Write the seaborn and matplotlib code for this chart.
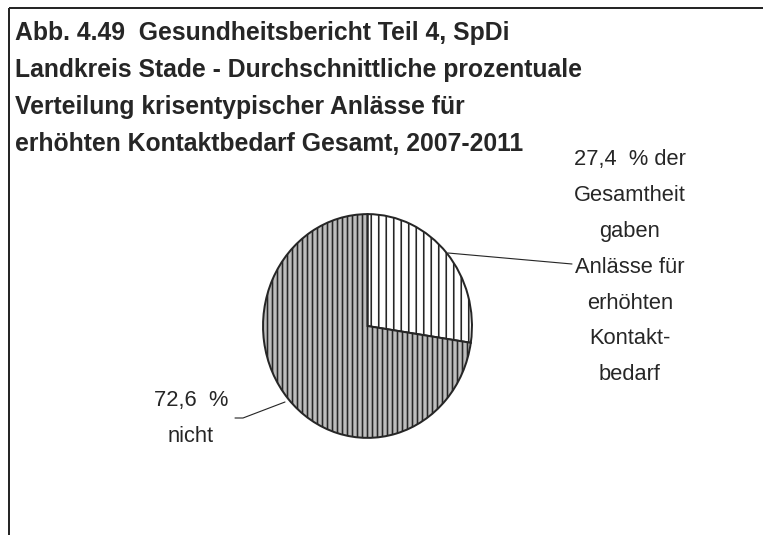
import matplotlib
matplotlib.use("Agg")
import matplotlib.pyplot as plt
import seaborn as sns

# --- data -------------------------------------------------------------
title_lines = [
    "Abb. 4.49  Gesundheitsbericht Teil 4, SpDi",
    "Landkreis Stade - Durchschnittliche prozentuale",
    "Verteilung krisentypischer Anlässe für",
    "erhöhten Kontaktbedarf Gesamt, 2007-2011",
]
shares = [27.4, 72.6]
share_suffix = [
    ["  % der", "Gesamtheit", "gaben", "Anlässe für", "erhöhten", "Kontakt-", "bedarf"],
    ["  %", "nicht"],
]
face_colors = ["#ffffff", "#bdbdbd"]
hatches = ["||", "|||"]

# --- styling ----------------------------------------------------------
sns.set_theme(style="white")
plt.rcParams["font.family"] = ["Liberation Sans", "DejaVu Sans"]
plt.rcParams["hatch.linewidth"] = 1.3

W, H, DPI = 763, 535, 90
fig = plt.figure(figsize=(W / DPI, H / DPI), dpi=DPI)
fig.patch.set_facecolor("white")

# overlay axes in pixel units (y measured from the top)
ov = fig.add_axes([0, 0, 1, 1])
ov.set_xlim(0, W)
ov.set_ylim(H, 0)
ov.axis("off")

ink = "#262626"

# frame: top and left rule
ov.plot([9, W], [8, 8], color=ink, lw=1.6, solid_capstyle="butt")
ov.plot([9, 9], [8, H], color=ink, lw=1.6, solid_capstyle="butt")

# title, one baseline per line
for i, line in enumerate(title_lines):
    ov.text(15, 40 + i * 37.0, line, fontsize=19.8, fontweight="bold",
            color=ink, ha="left", va="baseline")

# pie in its own axes, stretched slightly taller than wide
pie_left, pie_top, pie_w, pie_h = 262, 213, 211, 226
pax = fig.add_axes([pie_left / W, (H - pie_top - pie_h) / H, pie_w / W, pie_h / H])
wedges, _ = pax.pie(
    shares,
    startangle=90,
    counterclock=False,
    colors=face_colors,
    radius=1.0,
    wedgeprops=dict(edgecolor=ink, linewidth=1.6),
)
for w, h in zip(wedges, hatches):
    w.set_hatch(h)
pax.set_xlim(-1.01, 1.01)
pax.set_ylim(-1.01, 1.01)
pax.set_aspect("auto")
pax.axis("off")


def fmt(v):
    return f"{v:.1f}".replace(".", ",")


def label_block(x, y0, lines, step=35.9):
    for i, line in enumerate(lines):
        ov.text(x, y0 + i * step, line, fontsize=17.5, color=ink,
                ha="center", va="baseline")


# labels with leader lines
lines0 = [fmt(shares[0]) + share_suffix[0][0]] + share_suffix[0][1:]
label_block(630, 165, lines0)
ov.plot([448, 572], [253, 264], color=ink, lw=0.9)

lines1 = [fmt(shares[1]) + share_suffix[1][0]] + share_suffix[1][1:]
label_block(191, 406, lines1, step=36.0)
ov.plot([285, 243, 235], [402, 418, 418], color=ink, lw=0.9)

fig.savefig("out.png", dpi=DPI, facecolor="white")
